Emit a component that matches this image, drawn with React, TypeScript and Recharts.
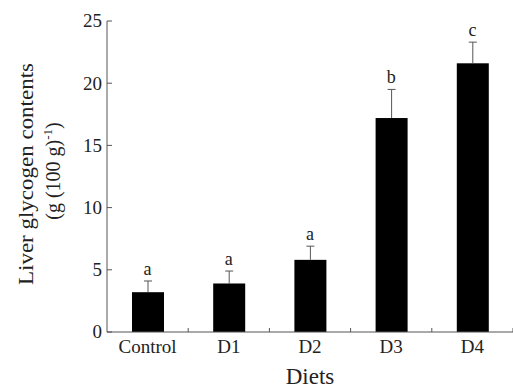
import { ComposedChart, Bar, Scatter, XAxis, YAxis } from "recharts";

const diets = ["Control", "D1", "D2", "D3", "D4"];
const glycogen = [3.2, 3.9, 5.8, 17.2, 21.6];
const sd = [0.9, 1.0, 1.1, 2.3, 1.7];
const letters = ["a", "a", "a", "b", "c"];
const yTicks = [0, 5, 10, 15, 20, 25];

const W = 513;
const H = 388;
const M = { top: 21, right: 0, left: 47, bottom: 26 };
const Y_AXIS_W = 60;
const FONT = "'Liberation Serif', 'Times New Roman', serif";
const AXIS = "#555";

const data = diets.map((d, i) => ({
  diet: d,
  value: glycogen[i],
  sd: sd[i],
  upper: glycogen[i] + sd[i],
  letter: letters[i],
}));

const band = (W - M.left - Y_AXIS_W - M.right) / diets.length;

function YTick(props: any) {
  const { x, y, payload } = props;
  return (
    <g>
      <line x1={x + 5} x2={x + 10} y1={y} y2={y} stroke={AXIS} />
      <text
        x={x}
        y={y}
        dy="0.34em"
        textAnchor="end"
        fontFamily={FONT}
        fontSize={19}
        fill="#222"
      >
        {payload.value}
      </text>
    </g>
  );
}

function XTick(props: any) {
  const { x, y, payload } = props;
  return (
    <g>
      <line
        x1={x + band / 2}
        x2={x + band / 2}
        y1={y}
        y2={y - 4}
        stroke={AXIS}
      />
      <text
        x={x}
        y={y + 21}
        textAnchor="middle"
        fontFamily={FONT}
        fontSize={19}
        fill="#222"
      >
        {payload.value}
      </text>
    </g>
  );
}

// bar plus the upper half of its error bar
function BarWithError(props: any) {
  const { x, y, width, height, payload } = props;
  const cx = x + width / 2;
  const top = y - (payload.sd * height) / payload.value;
  return (
    <g>
      <rect x={x} y={y} width={width} height={height} fill="#000" />
      <line x1={cx} x2={cx} y1={y} y2={top} stroke={AXIS} />
      <line x1={cx - 4} x2={cx + 4} y1={top} y2={top} stroke={AXIS} />
    </g>
  );
}

function LetterShape(props: any) {
  const { cx, cy, payload } = props;
  return (
    <text
      x={cx}
      y={cy - 6}
      textAnchor="middle"
      fontFamily={FONT}
      fontSize={18}
      fill="#222"
    >
      {payload.letter}
    </text>
  );
}

function YLabel() {
  return (
    <g fontFamily={FONT} fill="#222">
      <text
        transform="translate(33, 174) rotate(-90)"
        textAnchor="middle"
        fontSize={21}
        textLength={222}
        lengthAdjust="spacingAndGlyphs"
      >
        Liver glycogen contents
      </text>
      <text
        transform="translate(60, 171) rotate(-90)"
        textAnchor="middle"
        fontSize={20}
      >
        (g (100 g)
        <tspan dy={-8} fontSize={13}>
          -1
        </tspan>
        <tspan dy={8}>)</tspan>
      </text>
    </g>
  );
}

export default function App() {
  return (
    <div style={{ position: "absolute", left: 0, top: 0 }}>
      <ComposedChart width={W} height={H} data={data} margin={M}>
        <XAxis
          dataKey="diet"
          height={30}
          axisLine={{ stroke: AXIS }}
          tickLine={false}
          tickSize={0}
          tickMargin={0}
          tick={<XTick />}
          label={{
            value: "Diets",
            position: "insideBottom",
            offset: -22,
            fontFamily: FONT,
            fontSize: 23,
            fill: "#222",
          }}
        />
        <YAxis
          width={Y_AXIS_W}
          domain={[0, 25]}
          ticks={yTicks}
          axisLine={{ stroke: AXIS }}
          tickLine={false}
          tickSize={0}
          tickMargin={5}
          tick={<YTick />}
          label={{ content: () => <YLabel /> }}
        />
        <Bar
          dataKey="value"
          barSize={32}
          shape={<BarWithError />}
          isAnimationActive={false}
        />
        <Scatter
          dataKey="upper"
          shape={<LetterShape />}
          isAnimationActive={false}
        />
      </ComposedChart>
    </div>
  );
}
